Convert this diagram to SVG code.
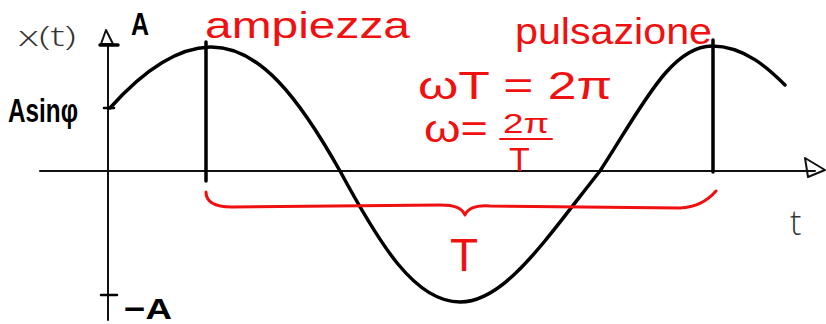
<svg xmlns="http://www.w3.org/2000/svg" width="826" height="324" viewBox="0 0 826 324">
<style>
.ink{fill:none;stroke:#000;stroke-width:3.5;stroke-linecap:round;stroke-linejoin:round}
.axis{fill:none;stroke:#111;stroke-width:2;stroke-linecap:round;stroke-linejoin:round}
.red{fill:none;stroke:#f01010;stroke-width:3;stroke-linecap:round;stroke-linejoin:round}
.rt{fill:#f01010;font-family:"Liberation Sans","DejaVu Sans",sans-serif;font-weight:300}
.bt{fill:#000;font-family:"Liberation Sans","DejaVu Sans",sans-serif;font-weight:bold}
.gt{fill:#333;font-family:"Open Sans","Liberation Sans",sans-serif;font-weight:300}
</style>
<rect width="826" height="324" fill="#fff"/>
<g id="axes">
<path class="axis" d="M108,44 L108,320"/>
<path class="axis" d="M40,171 L815,171"/>
<path class="axis" d="M106,30 L101,44 L113,44 Z"/>
<path class="axis" d="M805,158 L825,170 L808,177 Z"/>
<path class="ink" d="M100,45 L118,45"/>
<path class="ink" d="M101,295 L117,295" style="stroke-width:2.5"/>
<path class="ink" d="M104,108 L114,108" style="stroke-width:2.5"/>
</g>
<g id="curve">
<path class="ink" d="M110,108 C135,80 170,48 210,47 C260,46 300,100 340,171 C380,245 415,302 460,302 C505,302 545,240 600,171 C640,110 670,46 712,46 C745,46 770,70 785,85"/>
<path class="ink" d="M206,42 L206,181"/>
<path class="ink" d="M713,40 L713,172"/>
</g>
<g id="bracket">
<path class="red" d="M206,192 C206,201 213,207 232,207 L440,205 C455,205 462,208 465,215 C468,208 475,205 490,206 L680,208 C700,207 710,198 716,191"/>
</g>
<g id="labels">
<text class="gt" x="18" y="46" font-size="28" textLength="58" lengthAdjust="spacingAndGlyphs">x(t)</text>
<text class="bt" x="131" y="35" font-size="32" textLength="18" lengthAdjust="spacingAndGlyphs">A</text>
<text class="bt" x="8" y="122" font-size="34" textLength="70" lengthAdjust="spacingAndGlyphs">Asinφ</text>
<text class="bt" x="124" y="319" font-size="30" textLength="48" lengthAdjust="spacingAndGlyphs">−A</text>
<text class="gt" x="790" y="235" font-size="34">t</text>
<text class="rt" x="205" y="38" font-size="36" textLength="205" lengthAdjust="spacingAndGlyphs">ampiezza</text>
<text class="rt" x="515" y="44" font-size="36" textLength="197" lengthAdjust="spacingAndGlyphs">pulsazione</text>
<text class="rt" x="418" y="99" font-size="38" textLength="194" lengthAdjust="spacingAndGlyphs">ωT = 2π</text>
<text class="rt" x="424" y="142" font-size="38" textLength="64" lengthAdjust="spacingAndGlyphs">ω=</text>
<text class="rt" x="503" y="133" font-size="28" textLength="46" lengthAdjust="spacingAndGlyphs">2π</text>
<path class="red" d="M500,139 L552,139" style="stroke-width:2"/>
<text class="rt" x="509" y="171" font-size="34">T</text>
<text class="rt" x="450" y="271" font-size="46">T</text>
</g>
</svg>
